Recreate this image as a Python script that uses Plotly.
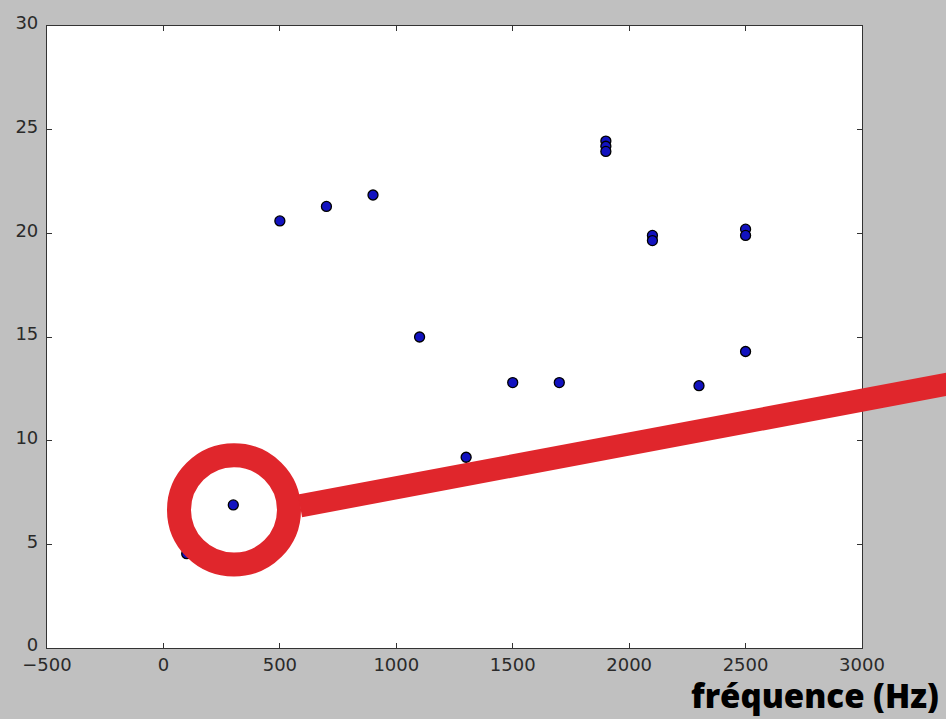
import plotly.graph_objects as go

# Data
freq_hz = [100, 300, 500, 700, 900, 1100, 1300, 1500, 1700,
           1900, 1900, 1900, 2100, 2100, 2300, 2500, 2500, 2500]
values = [4.55, 6.9, 20.6, 21.3, 21.85, 15.0, 9.2, 12.8, 12.8,
          24.45, 24.2, 23.95, 19.9, 19.65, 12.65, 20.2, 19.9, 14.3]
x_ticks = [-500, 0, 500, 1000, 1500, 2000, 2500, 3000]
y_ticks = [0, 5, 10, 15, 20, 25, 30]
x_label = "fréquence (Hz)"

W, H = 946, 719
L, R, T, B = 47, 84, 22, 71
pw, ph = W - L - R, H - T - B


def px2paper(px, py):
    return (px - L) / pw, (H - B - py) / ph


fig = go.Figure()
fig.add_trace(go.Scatter(
    x=freq_hz, y=values, mode="markers",
    marker=dict(size=10, color="#1212c0", line=dict(color="#000000", width=1.3)),
    hoverinfo="skip", showlegend=False,
))

axis_common = dict(
    showgrid=False, zeroline=False, showline=True, linecolor="#333333", linewidth=1.2,
    mirror="ticks", ticks="inside", ticklen=5, tickcolor="#333333",
    tickfont=dict(family="DejaVu Sans", size=18, color="#2a2a2a"),
)
fig.update_xaxes(range=[-500, 3000], tickvals=x_ticks,
                 ticktext=[("−" + str(-v)) if v < 0 else str(v) for v in x_ticks],
                 **axis_common)
fig.update_yaxes(range=[0, 30], tickvals=y_ticks, ticklabelstandoff=4,
                 ticklabelshift=-3, **axis_common)

# Red ring annotation
cx, cy, r = 234, 509, 55
x0, y0 = px2paper(cx - r, cy + r)
x1, y1 = px2paper(cx + r, cy - r)
shapes = [dict(type="circle", xref="paper", yref="paper", x0=x0, y0=y0, x1=x1, y1=y1,
               line=dict(color="#e0262c", width=24), layer="above")]
# Red pointer line
lx0, ly0 = px2paper(300, 505)
lx1, ly1 = px2paper(960, 380)
shapes.append(dict(type="line", xref="paper", yref="paper", x0=lx0, y0=ly0, x1=lx1, y1=ly1,
                   line=dict(color="#e0262c", width=23), layer="above"))

ax, ay = px2paper(941, 720)
fig.update_layout(
    width=W, height=H,
    margin=dict(l=L, r=R, t=T, b=B),
    paper_bgcolor="#c0c0c0", plot_bgcolor="#ffffff",
    shapes=shapes,
    annotations=[dict(text=x_label, xref="paper", yref="paper", x=ax, y=ay,
                      xanchor="right", yanchor="bottom", showarrow=False,
                      font=dict(family="Open Sans", size=33, color="#000000", weight=900))],
)

fig.write_html("out.html")
